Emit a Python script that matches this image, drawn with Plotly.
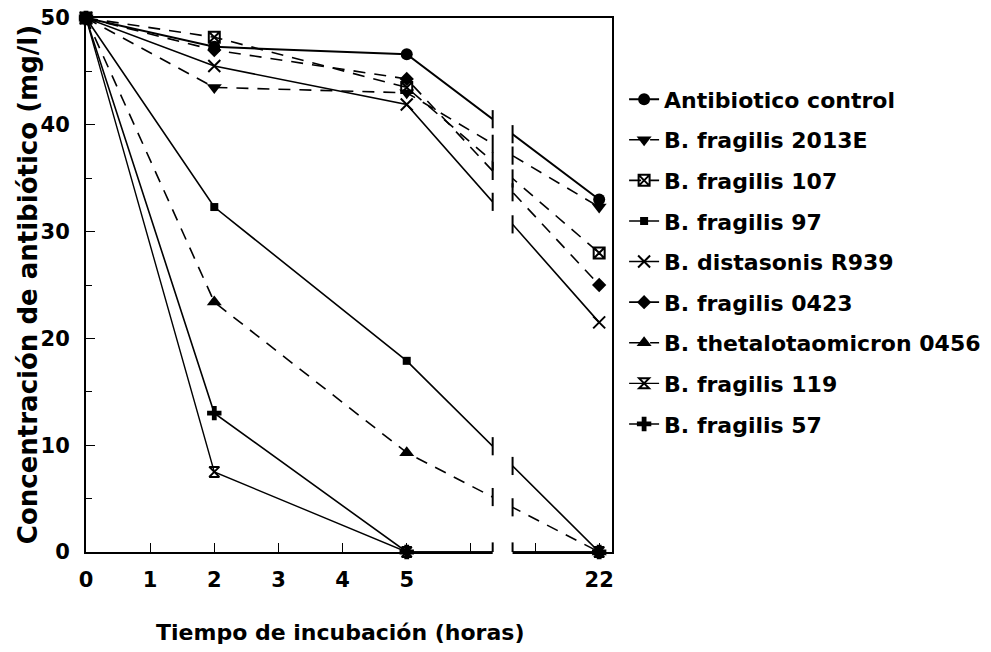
import plotly.graph_objects as go

# ---- data ----
hours = [0, 2, 5, 22]
hour_pos = [0, 2, 5, 8]          # position of each sampling time on the broken axis
series_names = ["Antibiotico control", "B. fragilis 2013E", "B. fragilis 107",
                "B. fragilis 97", "B. distasonis R939", "B. fragilis 0423",
                "B. thetalotaomicron 0456", "B. fragilis 119", "B. fragilis 57"]
control = [50, 47.3, 46.6, 33.0]
fragilis_2013E = [50, 43.5, 43.0, 32.3]
fragilis_107 = [50, 48.2, 43.5, 28.0]
fragilis_97 = [50, 32.3, 17.9, 0]
distasonis_R939 = [50, 45.5, 41.9, 21.5]
fragilis_0423 = [50, 47.0, 44.3, 25.0]
theta_0456 = [50, 23.4, 9.3, 0]
fragilis_119 = [50, 7.5, 0, 0]
fragilis_57 = [50, 13.0, 0, 0]
x_tick_pos = [0, 1, 2, 3, 4, 5, 6, 7, 8]
x_tick_text = ["0", "1", "2", "3", "4", "5", "", "", "22"]
y_ticks = [0, 10, 20, 30, 40, 50]

values = [control, fragilis_2013E, fragilis_107, fragilis_97, distasonis_R939,
          fragilis_0423, theta_0456, fragilis_119, fragilis_57]
symbols = ["circle", "triangle-down", "square-x-open", "square", "x-thin-open",
           "diamond", "triangle-up", "hourglass-open", "cross"]
sizes = [12, 13, 11, 8, 12, 11, 13, 10, 12]
dashes = ["solid", "12px,9px", "12px,9px", "solid", "solid", "12px,9px",
          "12px,9px", "solid", "solid"]
widths = [2, 1.6, 1.6, 1.6, 1.6, 1.6, 1.6, 1.4, 1.6]

FONT = "DejaVu Sans, Arial, sans-serif"
fig = go.Figure()
for i, (name, vals) in enumerate(zip(series_names, values)):
    fig.add_trace(go.Scatter(
        x=hour_pos, y=vals, name=name, mode="lines+markers",
        legendgroup=f"g{i}",
        line=dict(color="black", width=widths[i], dash=dashes[i]),
        marker=dict(symbol=symbols[i], size=sizes[i], color="black",
                    line=dict(color="black", width=2 if "open" in symbols[i] else 0)),
        cliponaxis=False,
    ))

# axis break (between hour 5 region and hour 22)
bx0, bx1 = 6.34, 6.65
shapes = [dict(type="rect", xref="x", yref="paper", x0=bx0, x1=bx1, y0=-0.02, y1=0.993,
               fillcolor="white", line=dict(width=0), layer="above")]
for bx in (bx0, bx1):
    shapes.append(dict(type="line", xref="x", yref="y", x0=bx, x1=bx, y0=-0.9, y1=0.9,
                       line=dict(color="black", width=2), layer="above"))
# break marks where each curve crosses the gap
for vals in values:
    y5, y22 = vals[2], vals[3]
    if y5 == 0 and y22 == 0:
        continue
    for bx in (bx0, bx1):
        yb = y5 + (y22 - y5) * (bx - hour_pos[2]) / (hour_pos[3] - hour_pos[2])
        shapes.append(dict(type="line", xref="x", yref="y", x0=bx, x1=bx,
                           y0=yb - 0.85, y1=yb + 0.85,
                           line=dict(color="black", width=2), layer="above"))

fig.update_layout(
    width=991, height=652,
    margin=dict(l=86, r=379, t=18, b=100, autoexpand=False),
    paper_bgcolor="white", plot_bgcolor="white",
    font=dict(family=FONT, size=18, color="black"),
    shapes=shapes,
    showlegend=True,
    legend=dict(x=1.023, xanchor="left", y=0.887, yanchor="top",
                font=dict(family=FONT, size=22, color="black", weight="bold"),
                tracegroupgap=9.0, bgcolor="rgba(0,0,0,0)"),
    xaxis=dict(range=[0, 8.2], tickvals=x_tick_pos, ticktext=x_tick_text,
               ticks="inside", ticklen=9, tickwidth=1, tickcolor="black",
               showline=True, linecolor="black", linewidth=2, mirror=True,
               showgrid=False, zeroline=False, ticklabelstandoff=8, automargin=False,
               ticklabeloverflow="allow",
               tickfont=dict(family=FONT, size=21, weight="bold")),
    yaxis=dict(range=[0, 50], tickvals=y_ticks,
               ticks="inside", ticklen=9, tickwidth=1, tickcolor="black",
               minor=dict(dtick=5, ticks="inside", ticklen=6, tickcolor="black"),
               showline=True, linecolor="black", linewidth=2, mirror=True,
               showgrid=False, zeroline=False, ticklabelstandoff=10, automargin=False,
               ticklabeloverflow="allow",
               tickfont=dict(family=FONT, size=21, weight="bold")),
    annotations=[
        dict(text="Tiempo de incubación (horas)", xref="paper", yref="paper",
             x=0.483, y=-0.15, xanchor="center", yanchor="middle", showarrow=False,
             font=dict(family=FONT, size=22, weight="bold")),
        dict(text="Concentración de antibiótico (mg/l)", xref="paper", yref="paper",
             x=-0.11, y=0.5, xanchor="center", yanchor="middle", textangle=-90,
             showarrow=False, font=dict(family=FONT, size=26, weight="bold")),
    ],
)
fig.write_html("out.html", config={"displayModeBar": False},
               post_script="document.body.style.margin='0';document.body.style.overflow='hidden';")
